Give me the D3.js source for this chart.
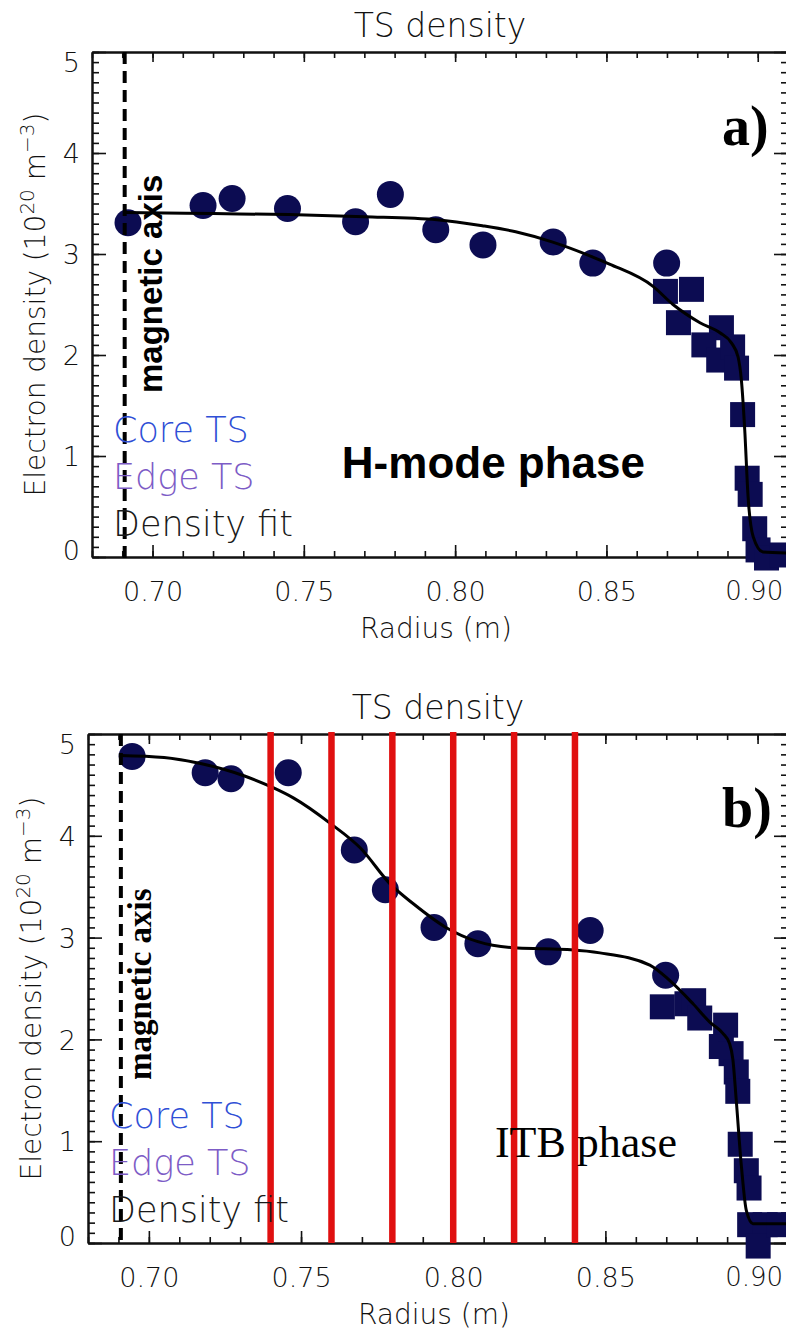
<!DOCTYPE html>
<html>
<head>
<meta charset="utf-8">
<script src="https://cdn.jsdelivr.net/npm/d3@7/dist/d3.min.js"></script>
<style>
  html, body { margin: 0; padding: 0; background: #fff; }
  svg { display: block; }
  .hs { font-family: "DejaVu Sans", sans-serif; font-weight: 200; }
</style>
</head>
<body>
<div id="canvas"></div>
<script>
// axes
var xDomain = [0.68, 0.91];
var yDomain = [0, 5];
var xTicks = [0.70, 0.75, 0.80, 0.85, 0.90];
var yTicks = [0, 1, 2, 3, 4, 5];
var magneticAxisR = 0.6908;
var legendLabels = ['Core TS', 'Edge TS', 'Density fit'];

// a) H-mode phase
var coreRA = [0.6919, 0.7167, 0.7263, 0.7446, 0.7671, 0.7786, 0.7936, 0.8092, 0.8324, 0.8455, 0.8699];
var coreNA = [3.31, 3.48, 3.55, 3.45, 3.32, 3.59, 3.24, 3.09, 3.12, 2.91, 2.91];
var edgeRA = [0.8695, 0.8781, 0.8738, 0.8880, 0.8822, 0.8871, 0.8917, 0.8930, 0.8950, 0.8965, 0.8975, 0.8990, 0.9001, 0.9029, 0.9079];
var edgeNA = [2.63, 2.65, 2.32, 2.27, 2.10, 1.95, 2.08, 1.87, 1.41, 0.78, 0.62, 0.28, 0.07, -0.01, 0.02];
var fitRA = [0.6905, 0.72, 0.745, 0.77, 0.794, 0.809, 0.82, 0.832, 0.8455, 0.851, 0.8654, 0.872, 0.8809, 0.8875, 0.8913, 0.8935, 0.8946, 0.8957, 0.8968, 0.8985, 0.9017, 0.91];
var fitNA = [3.41, 3.40, 3.39, 3.37, 3.34, 3.28, 3.22, 3.12, 2.97, 2.90, 2.68, 2.50, 2.32, 2.22, 2.12, 1.98, 1.75, 1.26, 0.60, 0.20, 0.05, 0.04];

// b) ITB phase
var coreRB = [0.6945, 0.7185, 0.7270, 0.7458, 0.7675, 0.7777, 0.7937, 0.8081, 0.8312, 0.8450, 0.8698];
var coreNB = [4.78, 4.62, 4.56, 4.62, 3.86, 3.47, 3.10, 2.94, 2.86, 3.07, 2.63];
var edgeRB = [0.8687, 0.8768, 0.8790, 0.8810, 0.8895, 0.8881, 0.8913, 0.8930, 0.8935, 0.8943, 0.8963, 0.8972, 0.8974, 0.9025, 0.9002, 0.9072];
var edgeNB = [2.32, 2.35, 2.38, 2.21, 2.14, 1.93, 1.86, 1.68, 1.49, 0.97, 0.71, 0.54, 0.18, 0.18, -0.03, 0.18];
var fitRB = [0.6905, 0.705, 0.717, 0.7312, 0.741, 0.7476, 0.7597, 0.7695, 0.7795, 0.787, 0.7976, 0.8081, 0.8199, 0.83, 0.8386, 0.8482, 0.8646, 0.8711, 0.8788, 0.8843, 0.8886, 0.8908, 0.8919, 0.893, 0.8947, 0.8963, 0.8985, 0.91];
var fitNB = [4.79, 4.77, 4.71, 4.59, 4.47, 4.37, 4.12, 3.88, 3.52, 3.33, 3.10, 2.96, 2.90, 2.89, 2.88, 2.85, 2.73, 2.58, 2.35, 2.17, 2.06, 1.96, 1.80, 1.40, 0.75, 0.32, 0.19, 0.19];
var itbRadii = [0.74, 0.76, 0.78, 0.80, 0.82, 0.84];

var W = 786, H = 1333;
var navy = '#0c0c52';

var svg = d3.select('#canvas').append('svg')
  .attr('width', W)
  .attr('height', H);

var zip = function (a, b) {
  return a.map(function (v, i) { return [v, b[i]]; });
};

var drawPanel = function (p) {
  var g = svg.append('g');
  var x = d3.scaleLinear().domain(xDomain).range([p.left, p.right]);
  var y = d3.scaleLinear().domain(yDomain).range([p.bottom, p.top]);
  var xMinor = d3.range(0.68, 0.9105, 0.01);
  var yMinor = d3.range(0, 5.001, 0.1);

  // minor ticks first, then majors with labels
  var axes = [
    [d3.axisBottom(x).tickValues(xMinor).tickSizeInner(-6), p.bottom, 0],
    [d3.axisBottom(x).tickValues(xMinor).tickSizeInner(6), p.top, 0],
    [d3.axisLeft(y).tickValues(yMinor).tickSizeInner(-7), 0, p.left],
    [d3.axisLeft(y).tickValues(yMinor).tickSizeInner(7), 0, p.right],
    [d3.axisBottom(x).tickValues(xTicks).tickSizeInner(10), p.top, 0],
    [d3.axisLeft(y).tickValues(yTicks).tickSizeInner(14), 0, p.right]
  ];
  axes.forEach(function (a) {
    var ag = g.append('g')
      .attr('transform', 'translate(' + a[2] + ',' + a[1] + ')')
      .call(a[0].tickSizeOuter(0).tickFormat(''));
    ag.selectAll('line').attr('stroke', '#111').attr('stroke-width', 1.6);
    ag.select('.domain').attr('stroke', '#111').attr('stroke-width', 2);
  });

  var xa = g.append('g')
    .attr('transform', 'translate(0,' + p.bottom + ')')
    .call(d3.axisBottom(x).tickValues(xTicks).tickSizeInner(-12).tickSizeOuter(0)
      .tickPadding(25).tickFormat(d3.format('.2f')));
  var ya = g.append('g')
    .attr('transform', 'translate(' + p.left + ',0)')
    .call(d3.axisLeft(y).tickValues(yTicks).tickSizeInner(-14).tickSizeOuter(0)
      .tickPadding(12).tickFormat(d3.format('d')));
  [xa, ya].forEach(function (ag) {
    ag.selectAll('line').attr('stroke', '#111').attr('stroke-width', 1.6);
    ag.select('.domain').attr('stroke', '#111').attr('stroke-width', 2);
    ag.selectAll('text').attr('class', 'hs').attr('fill', '#111')
      .attr('font-size', 27).style('font-family', '"DejaVu Sans", sans-serif');
  });
  xa.selectAll('text').attr('dx', function (d) { return d === 0.90 ? -4 : 0; })
    .attr('font-size', function (d) { return d === 0.90 ? 26 : 27; });
  ya.selectAll('text').attr('dy', function (d) {
    return d === 5 ? '0.72em' : (d === 0 ? '0.1em' : '0.36em');
  });

  // data
  g.append('g').selectAll('circle').data(zip(p.coreR, p.coreN))
    .enter().append('circle')
    .attr('cx', function (d) { return x(d[0]); })
    .attr('cy', function (d) { return y(d[1]); })
    .attr('r', 13.5)
    .attr('fill', navy);

  g.append('g').selectAll('rect').data(zip(p.edgeR, p.edgeN))
    .enter().append('rect')
    .attr('x', function (d) { return x(d[0]) - 12.5; })
    .attr('y', function (d) { return y(d[1]) - 12.5; })
    .attr('width', 25)
    .attr('height', 25)
    .attr('fill', navy);

  var line = d3.line()
    .x(function (d) { return x(d[0]); })
    .y(function (d) { return y(d[1]); })
    .curve(d3.curveMonotoneX);
  g.append('path')
    .datum(zip(p.fitR, p.fitN))
    .attr('d', line)
    .attr('fill', 'none')
    .attr('stroke', '#000')
    .attr('stroke-width', 3);

  if (p.itb) {
    g.append('g').selectAll('line').data(p.itb)
      .enter().append('line')
      .attr('x1', function (d) { return x(d); })
      .attr('x2', function (d) { return x(d); })
      .attr('y1', y(5) - 2)
      .attr('y2', y(0))
      .attr('stroke', '#e01010')
      .attr('stroke-width', 6.5);
  }

  g.append('line')
    .attr('x1', x(magneticAxisR)).attr('x2', x(magneticAxisR))
    .attr('y1', y(5)).attr('y2', y(0) + 4)
    .attr('stroke', '#000')
    .attr('stroke-width', 4)
    .attr('stroke-dasharray', '12,7');

  // texts
  var cx = (p.left + p.right) / 2;
  g.append('text').attr('class', 'hs')
    .attr('x', cx).attr('y', p.top - 15)
    .attr('text-anchor', 'middle')
    .attr('font-size', 33)
    .attr('fill', '#111')
    .text('TS density');

  g.append('text').attr('class', 'hs')
    .attr('x', cx - 4).attr('y', p.bottom + 81)
    .attr('text-anchor', 'middle')
    .attr('font-size', 28)
    .attr('fill', '#111')
    .text('Radius (m)');

  var yt = g.append('text').attr('class', 'hs')
    .attr('transform', 'translate(' + (p.left - 47) + ',' + ((p.top + p.bottom) / 2) + ') rotate(-90)')
    .attr('text-anchor', 'middle')
    .attr('font-size', 28)
    .attr('fill', '#111');
  yt.append('tspan').text('Electron density (10');
  yt.append('tspan').attr('dy', -11).attr('font-size', 20).text('20');
  yt.append('tspan').attr('dy', 11).text(' m');
  yt.append('tspan').attr('dy', -11).attr('font-size', 20).text('\u22123');
  yt.append('tspan').attr('dy', 11).text(')');

  var legendColors = ['#2f4fd6', '#7d5cc6', '#1a1a1a'];
  g.append('g').selectAll('text').data(legendLabels)
    .enter().append('text')
    .attr('class', 'hs')
    .attr('x', p.left + 21)
    .attr('y', function (d, i) { return p.bottom - 115 + i * 47; })
    .attr('font-size', 35)
    .attr('fill', function (d, i) { return legendColors[i]; })
    .text(function (d) { return d; });

  g.append('text')
    .attr('transform', 'translate(' + p.magX + ',' + p.magY + ') rotate(-90)')
    .attr('font-family', p.magFont)
    .attr('font-weight', 'bold')
    .attr('font-size', 33)
    .attr('fill', '#000')
    .text('magnetic axis');

  g.append('text')
    .attr('x', p.phaseX).attr('y', p.phaseY)
    .attr('text-anchor', 'end')
    .attr('font-family', p.phaseFont)
    .attr('font-weight', p.phaseWeight)
    .attr('font-size', 44)
    .attr('fill', '#000')
    .text(p.phase);

  g.append('text')
    .attr('x', p.right - 66).attr('y', p.top + 93)
    .attr('font-family', '"Liberation Serif", serif')
    .attr('font-weight', 'bold')
    .attr('font-size', 56)
    .attr('fill', '#000')
    .text(p.tag);
};

drawPanel({
  left: 92, right: 788, top: 52, bottom: 557,
  coreR: coreRA, coreN: coreNA, edgeR: edgeRA, edgeN: edgeNA, fitR: fitRA, fitN: fitNA,
  magX: 162, magY: 393, magFont: '"Liberation Sans", Arial, sans-serif',
  phase: 'H-mode phase', phaseX: 645, phaseY: 478,
  phaseFont: '"Liberation Sans", Arial, sans-serif', phaseWeight: 'bold',
  tag: 'a)'
});

drawPanel({
  left: 88, right: 788, top: 734, bottom: 1243,
  coreR: coreRB, coreN: coreNB, edgeR: edgeRB, edgeN: edgeNB, fitR: fitRB, fitN: fitNB,
  itb: itbRadii,
  magX: 151, magY: 1080, magFont: '"Liberation Serif", "Times New Roman", serif',
  phase: 'ITB phase', phaseX: 677, phaseY: 1157,
  phaseFont: '"Liberation Serif", "Times New Roman", serif', phaseWeight: 'normal',
  tag: 'b)'
});
</script>
</body>
</html>
